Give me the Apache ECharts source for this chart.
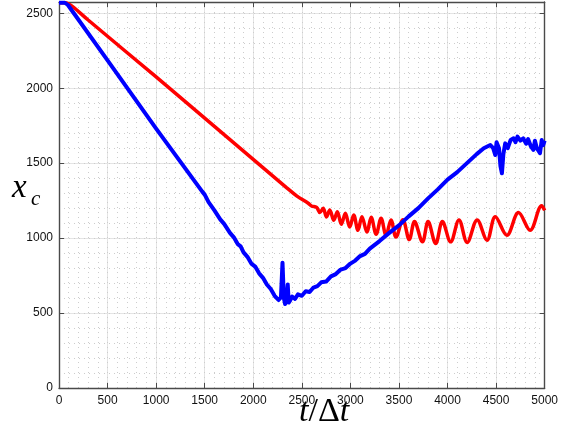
<!DOCTYPE html>
<html><head><meta charset="utf-8">
<script src="https://cdn.jsdelivr.net/npm/echarts@6/dist/echarts.min.js"></script>
<style>html,body{margin:0;padding:0;background:#fff}#c{width:561px;height:432px}</style>
</head><body><div id="c"></div>
<script>
var xTicks = [0,500,1000,1500,2000,2500,3000,3500,4000,4500,5000];
var yTicks = [0,500,1000,1500,2000,2500];
var redSeries = [
 [0,2570],[60,2570],[100,2562],[150,2540],[300,2455],[1000,2075],[1600,1745],[2345,1335],[2450,1280],[2566,1232],[2600,1214],
 [2652,1205],[2686,1170],[2720,1199],[2754,1141],[2788,1187],[2829,1119],[2866,1176],[2907,1092],[2948,1165],[2993,1074],
 [3034,1154],[3078,1052],[3119,1143],[3170,1041],[3214,1139],[3265,1025],[3316,1132],[3367,1019],[3418,1121],[3469,1007],
 [3540,1123],[3606,990],[3660,1110],[3742,975],[3800,1110],[3878,964],[3947,1110],[4032,975],[4118,1121],[4202,971],
 [4305,1121],[4407,986],[4492,1143],[4611,1019],[4731,1170],[4850,1052],[4969,1216],[5000,1185]
];
var blueSeries = [
 [0,2570],[60,2570],[92,2555],[500,2185],[1000,1730],[1475,1310],[1500,1290],[1540,1240],[1560,1235],[1600,1185],[1620,1180],
 [1660,1125],[1700,1095],[1720,1090],[1760,1035],[1800,1005],[1840,960],[1870,945],[1900,905],[1940,875],[1980,830],[2020,810],
 [2060,765],[2100,735],[2140,690],[2180,660],[2220,615],[2260,587],[2285,605],[2301,836],[2315,600],[2328,560],[2345,600],
 [2355,690],[2365,570],[2380,585],[2400,610],[2430,595],[2460,625],[2500,615],[2540,645],[2580,640],[2620,670],[2660,680],
 [2700,705],[2750,710],[2800,745],[2850,760],[2900,790],[2950,800],[3000,830],[3050,850],[3100,880],[3150,895],[3200,930],
 [3300,980],[3400,1035],[3500,1085],[3600,1145],[3700,1200],[3800,1265],[3900,1325],[4000,1390],[4100,1440],[4200,1500],
 [4300,1560],[4373,1599],[4441,1621],[4470,1600],[4492,1554],[4505,1640],[4530,1600],[4545,1480],[4560,1432],[4575,1560],
 [4594,1632],[4620,1600],[4650,1655],[4680,1666],[4700,1640],[4720,1677],[4750,1650],[4780,1665],[4810,1630],[4830,1660],
 [4860,1610],[4884,1588],[4900,1650],[4920,1600],[4952,1566],[4970,1655],[4985,1620],[5000,1650]
];
var xMin = 0, xMax = 5000, yMin = 0, yMax = 2575;
var frame = '#4a4a4a';
var tickFont = {fontFamily:'Liberation Sans', fontSize:12, color:'#111'};
var chart = echarts.init(document.getElementById('c'));
chart.setOption({
  animation:false,
  backgroundColor:'#fff',
  grid:{left:59,right:13,top:2,bottom:44},
  xAxis:[
    {type:'value',min:xMin,max:xMax,interval:500,position:'bottom',
     axisLine:{show:true,onZero:false,lineStyle:{color:frame,width:1.4}},
     axisTick:{show:true,inside:true,length:5,lineStyle:{color:frame}},
     axisLabel:Object.assign({margin:7,formatter:function(v){return xTicks.indexOf(v)>=0?String(v):'';}},tickFont),
     splitLine:{show:true,lineStyle:{color:'#e4e4e4',width:1}}},
    {type:'value',min:xMin,max:xMax,interval:500,position:'top',
     axisLine:{show:true,onZero:false,lineStyle:{color:frame,width:1.4}},
     axisTick:{show:true,inside:true,length:5,lineStyle:{color:frame}},
     axisLabel:{show:false},splitLine:{show:false}},
    {type:'value',min:xMin,max:xMax,interval:100,position:'bottom',
     axisLine:{show:false},axisTick:{show:false},axisLabel:{show:false},
     splitLine:{show:true,lineStyle:{color:'#cdcdcd',width:1,type:[1,4]}}}
  ],
  yAxis:[
    {type:'value',min:yMin,max:yMax,interval:500,position:'left',
     axisLine:{show:true,onZero:false,lineStyle:{color:frame,width:1.4}},
     axisTick:{show:true,inside:true,length:5,lineStyle:{color:frame}},
     axisLabel:Object.assign({margin:6,showMaxLabel:false,formatter:function(v){return yTicks.indexOf(v)>=0?String(v):'';}},tickFont),
     splitLine:{show:true,lineStyle:{color:'#e4e4e4',width:1}}},
    {type:'value',min:yMin,max:yMax,interval:500,position:'right',
     axisLine:{show:true,onZero:false,lineStyle:{color:frame,width:1.4}},
     axisTick:{show:true,inside:true,length:5,lineStyle:{color:frame}},
     axisLabel:{show:false},splitLine:{show:false}},
    {type:'value',min:yMin,max:yMax,interval:100,position:'left',
     axisLine:{show:false},axisTick:{show:false},axisLabel:{show:false},
     splitLine:{show:true,lineStyle:{color:'#cdcdcd',width:1,type:[1,4]}}}
  ],
  series:[
    {type:'line',data:redSeries,xAxisIndex:0,yAxisIndex:0,showSymbol:false,smooth:0.35,
     lineStyle:{color:'#ff0000',width:3.5},z:3},
    {type:'line',data:blueSeries,xAxisIndex:0,yAxisIndex:0,showSymbol:false,
     lineStyle:{color:'#0000ff',width:4,join:'round'},z:4}
  ],
  graphic:[
    {type:'text',left:299,top:395,style:{text:'{t|t}{s|/}{d|Δ}{t|t}',
      rich:{t:{font:'italic 34px "Liberation Serif"',fill:'#000'},
            s:{font:'34px "Liberation Serif"',fill:'#000'},
            d:{font:'34px "Liberation Serif"',fill:'#000'}}}},
    {type:'text',left:12,top:172,style:{text:'x',font:'italic 33px "Liberation Serif"',fill:'#000'}},
    {type:'text',left:31,top:189,style:{text:'c',font:'italic 21px "Liberation Serif"',fill:'#000'}}
  ]
});
</script></body></html>
